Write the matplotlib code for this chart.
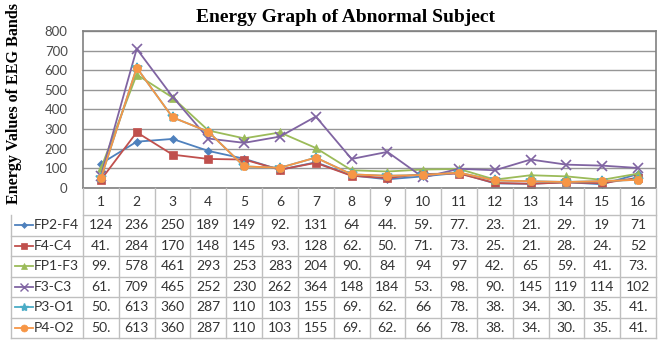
import matplotlib.pyplot as plt

# energy per electrode pair for the 16 samples
samples = list(range(1, 17))
channels = ['FP2-F4', 'F4-C4', 'FP1-F3', 'F3-C3', 'P3-O1', 'P4-O2']
fp2_f4 = [124, 236, 250, 189, 149, 92.6, 131, 64, 44.3, 59.4, 77.2, 23.5, 21.3, 29.4, 19, 71]
f4_c4 = [41.5, 284, 170, 148, 145, 93.2, 128, 62.4, 50.7, 71.3, 73.8, 25.6, 21.7, 28.3, 24.5, 52]
fp1_f3 = [99.4, 578, 461, 293, 253, 283, 204, 90.5, 84, 94, 97, 42.8, 65, 59.2, 41.6, 73.4]
f3_c3 = [61.2, 709, 465, 252, 230, 262, 364, 148, 184, 53.7, 98.1, 90.3, 145, 119, 114, 102]
p3_o1 = [50.3, 613, 360, 287, 110, 103, 155, 69.5, 62.2, 66, 78.4, 38.6, 34.2, 30.7, 35.1, 41.8]
p4_o2 = [50.3, 613, 360, 287, 110, 103, 155, 69.5, 62.2, 66, 78.4, 38.6, 34.2, 30.7, 35.1, 41.8]
series = [fp2_f4, f4_c4, fp1_f3, f3_c3, p3_o1, p4_o2]

colors = ['#4F81BD', '#C0504D', '#9BBB59', '#8064A2', '#4BACC6', '#F79646']
markers = ['D', 's', '^', 'x', '*', 'o']
msizes = [4, 6, 6, 7, 7, 6]

W, H = 662, 343
fig = plt.figure(figsize=(W / 100, H / 100), dpi=100)

left, right, top, bottom = 83, 656, 31, 188
ax = fig.add_axes([left / W, 1 - bottom / H, (right - left) / W, (bottom - top) / H])
for vals, c, m, s in zip(series, colors, markers, msizes):
    ax.plot(samples, vals, color=c, marker=m, markersize=s, lw=1.3,
            markeredgewidth=1.2 if m in 'x*' else 0.5, markeredgecolor=c)
ax.set_xlim(0.5, 16.5)
ax.set_ylim(0, 800)
ax.set_yticks(range(0, 801, 100))
ax.set_xticks([])
ax.grid(axis='y', color='#969696', lw=1)
ax.set_axisbelow(True)
ax.tick_params(axis='y', length=0, pad=11, labelsize=9.5, labelcolor='#4a4a4a')
for lab in ax.get_yticklabels():
    lab.set_family('Lato')
for sp in ax.spines.values():
    sp.set_color('#808080')
    sp.set_linewidth(1.2)

fig.text(345 / W, 1 - 17 / H, 'Energy Graph of Abnormal Subject', ha='center', va='center',
         family='Liberation Serif', weight='bold', fontsize=14)
fig.text(14 / W, 1 - 104 / H, 'Energy Values of EEG Bands', ha='center', va='center',
         rotation=90, family='Liberation Serif', weight='bold', fontsize=11.6)

# data table under the chart, drawn in pixel coordinates
tb = fig.add_axes([0, 0, 1, 1])
tb.set_xlim(0, W)
tb.set_ylim(H, 0)
tb.axis('off')
grid_c = '#BFBFBF'
colw = (right - left) / 16
head_bot = 215
rowh = 20.5
tab_bot = head_bot + rowh * 6
key_left = 11

tb.plot([left, right], [head_bot, head_bot], color=grid_c, lw=1)
for i in range(1, 7):
    y = head_bot + rowh * i
    tb.plot([key_left, right], [y, y], color=grid_c, lw=1)
for i in range(17):
    x = left + colw * i
    tb.plot([x, x], [bottom, tab_bot], color=grid_c, lw=1)
tb.plot([key_left, key_left], [head_bot, tab_bot], color=grid_c, lw=1)

def fmt(v):
    if float(v).is_integer():
        return str(int(v))
    return f'{v:.1f}'[:3]

for i, s in enumerate(samples):
    tb.text(left + colw * (i + 0.5), (bottom + head_bot) / 2 + 1, str(s), ha='center', va='center',
            family='Lato', fontsize=10, color='#333333')

for r, (name, vals, c, m, s) in enumerate(zip(channels, series, colors, markers, msizes)):
    yc = head_bot + rowh * (r + 0.5)
    tb.plot([15, 33], [yc, yc], color=c, lw=1.3)
    tb.plot([24], [yc], color=c, marker=m, markersize=s - 1,
            markeredgewidth=1.0 if m in 'x*' else 0.5, markeredgecolor=c)
    tb.text(34, yc, name, ha='left', va='center', family='Lato', fontsize=10, color='#333333')
    for i, v in enumerate(vals):
        tb.text(left + colw * (i + 0.5), yc, fmt(v), ha='center', va='center',
                family='Lato', fontsize=10, color='#333333')

fig.savefig('out.png', dpi=100)
